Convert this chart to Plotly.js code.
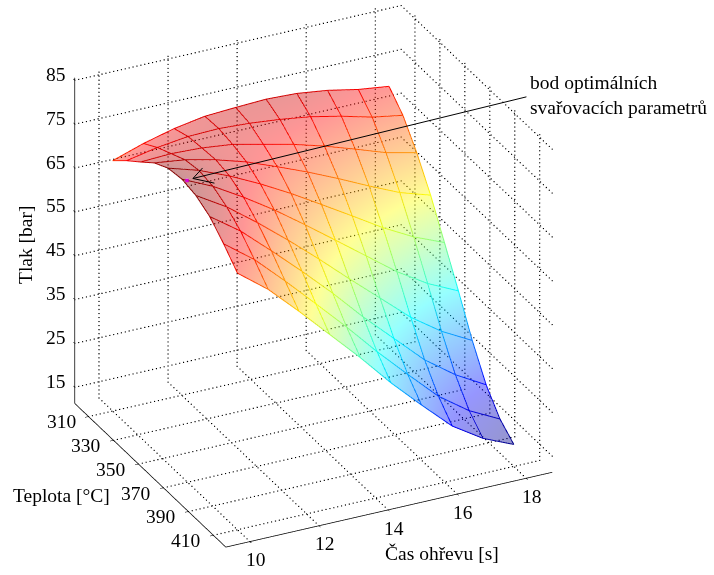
<!DOCTYPE html>
<html>
<head>
<meta charset="utf-8">
<script src="https://cdn.plot.ly/plotly-3.0.1.min.js"></script>
<style>html,body{margin:0;padding:0;background:#fff}</style>
</head>
<body>
<div id="plot" style="width:714px;height:575px"></div>
<script>
const casOhrevu = [10, 10.89, 11.78, 12.67, 13.56, 14.44, 15.33, 16.22, 17.11, 18];
const teplota = [310, 321.1, 332.2, 343.3, 354.4, 365.6, 376.7, 387.8, 398.9, 410];
const tlak = [
  [68.4, 70.7, 72.5, 73.7, 74.1, 74.4, 74.1, 73.2, 71.8, 70.9],
  [71.4, 72.8, 73.7, 73.9, 73.5, 72.8, 71.8, 70.3, 68.5, 67.3],
  [74.1, 74.4, 74.1, 73.3, 71.7, 70.1, 68.1, 65.8, 63.4, 61.8],
  [76.9, 76.0, 74.4, 72.3, 69.6, 66.8, 63.7, 60.4, 57.3, 55.1],
  [78.7, 76.6, 73.7, 70.3, 66.5, 62.4, 58.2, 53.9, 50.2, 47.3],
  [79.2, 76.0, 71.9, 67.4, 62.4, 57.3, 52.1, 46.9, 42.6, 39.3],
  [78.5, 74.3, 69.1, 63.5, 57.6, 51.5, 45.5, 39.5, 34.7, 31.0],
  [76.7, 71.8, 65.7, 59.4, 52.8, 45.8, 39.3, 32.8, 27.8, 23.9],
  [73.5, 68.3, 61.8, 55.0, 48.1, 40.9, 34.1, 27.5, 22.6, 19.1],
  [69.8, 64.5, 57.9, 51.0, 44.1, 36.8, 30.1, 23.7, 19.3, 16.3]
];

const xTicks = [10, 12, 14, 16, 18];
const yTicks = [310, 330, 350, 370, 390, 410];
const zTicks = [15, 25, 35, 45, 55, 65, 75, 85];

// box drawn around the data
const xRange = [9.3, 18.75];
const yRange = [299, 420];
const zRange = [11.3, 85.6];

const optimum = {x: 10, y: 369.5, z: 80};

const jet = [
  [0, 'rgb(0,0,128)'],
  [0.125, 'rgb(0,0,255)'],
  [0.375, 'rgb(0,255,255)'],
  [0.625, 'rgb(255,255,0)'],
  [0.875, 'rgb(255,0,0)'],
  [1, 'rgb(128,0,0)']
];
const cmin = 16;
const cmax = 79.2;
const serif = 'Liberation Serif, Times New Roman, serif';

const line3d = (x, y, z, width) => ({
  type: 'scatter3d',
  mode: 'lines',
  x: x, y: y, z: z,
  line: {color: '#000', width: width},
  hoverinfo: 'skip',
  showlegend: false
});

const traces = [];

// dotted grid on the floor and the two back walls, one small marker per dot
const gridX = [], gridY = [], gridZ = [];
const dots = (a, b, n) => {
  for (let i = 0; i <= n; i++) {
    gridX.push(a[0] + (b[0] - a[0]) * i / n);
    gridY.push(a[1] + (b[1] - a[1]) * i / n);
    gridZ.push(a[2] + (b[2] - a[2]) * i / n);
  }
};
xTicks.forEach(t => {
  dots([t, yRange[0], zRange[0]], [t, yRange[1], zRange[0]], 52);
  dots([t, yRange[0], zRange[0]], [t, yRange[0], zRange[1]], 81);
});
yTicks.forEach(t => {
  dots([xRange[0], t, zRange[0]], [xRange[1], t, zRange[0]], 84);
  dots([xRange[1], t, zRange[0]], [xRange[1], t, zRange[1]], 81);
});
zTicks.forEach(t => {
  dots([xRange[0], yRange[0], t], [xRange[1], yRange[0], t], 84);
  dots([xRange[1], yRange[0], t], [xRange[1], yRange[1], t], 52);
});
traces.push({
  type: 'scatter3d',
  mode: 'markers',
  x: gridX, y: gridY, z: gridZ,
  marker: {color: '#000', size: 0.6, symbol: 'square'},
  hoverinfo: 'skip',
  showlegend: false
});

// solid axes and ticks
traces.push(line3d(xRange, [yRange[1], yRange[1]], [zRange[0], zRange[0]], 1.5));
traces.push(line3d([xRange[0], xRange[0]], yRange, [zRange[0], zRange[0]], 1.5));
traces.push(line3d([xRange[0], xRange[0]], [yRange[0], yRange[0]], zRange, 1.5));
xTicks.forEach(t => traces.push(line3d([t, t], [yRange[1], yRange[1] + 5], [zRange[0], zRange[0]], 1)));
yTicks.forEach(t => traces.push(line3d([xRange[0], xRange[0] - 0.2], [t, t], [zRange[0], zRange[0]], 1)));
zTicks.forEach(t => traces.push(line3d([xRange[0], xRange[0]], [yRange[0], yRange[0] - 5], [t, t], 1)));

// the surface itself
traces.push({
  type: 'surface',
  x: casOhrevu,
  y: teplota,
  z: tlak,
  cmin: cmin,
  cmax: cmax,
  colorscale: jet,
  showscale: false,
  opacity: 0.41,
  hoverinfo: 'skip',
  lighting: {ambient: 1, diffuse: 0, specular: 0, roughness: 1, fresnel: 0}
});

// coloured wires
const wire = (x, y, z) => ({
  type: 'scatter3d',
  mode: 'lines',
  x: x, y: y, z: z,
  line: {color: z, colorscale: jet, cmin: cmin, cmax: cmax, width: 2},
  hoverinfo: 'skip',
  showlegend: false
});
teplota.forEach((t, k) => {
  traces.push(wire(casOhrevu, casOhrevu.map(() => t), tlak[k]));
});
casOhrevu.forEach((c, j) => {
  traces.push(wire(teplota.map(() => c), teplota, tlak.map(r => r[j])));
});

traces.push({
  type: 'scatter3d',
  mode: 'markers',
  x: [optimum.x], y: [optimum.y], z: [optimum.z],
  marker: {color: '#e000e0', size: 1.8, symbol: 'square'},
  hoverinfo: 'skip',
  showlegend: false
});

const tickFont = {family: serif, size: 19.5, color: '#000'};
const sceneNotes = [];
xTicks.forEach(t => sceneNotes.push({
  x: t, y: yRange[1], z: zRange[0], text: String(t), showarrow: false,
  xanchor: 'center', yanchor: 'middle', xshift: 6, yshift: -18, font: tickFont
}));
yTicks.forEach(t => sceneNotes.push({
  x: xRange[0], y: t, z: zRange[0], text: String(t), showarrow: false,
  xanchor: 'right', yanchor: 'middle', xshift: -11, yshift: -5, font: tickFont
}));
zTicks.forEach(t => sceneNotes.push({
  x: xRange[0], y: yRange[0], z: t, text: String(t), showarrow: false,
  xanchor: 'right', yanchor: 'middle', xshift: -7, yshift: 6, font: tickFont
}));
// pointer line and the two barbs of its open head
[[335, -82], [11, -12], [23, 5]].forEach(p => sceneNotes.push({
  x: optimum.x, y: optimum.y, z: optimum.z, text: '', showarrow: true, arrowhead: 0,
  arrowwidth: 1, arrowcolor: '#000', ax: p[0], ay: p[1], xshift: 6, yshift: 2, standoff: 0
}));

const layout = {
  width: 714,
  height: 575,
  margin: {l: 0, r: 0, t: 0, b: 0},
  paper_bgcolor: '#fff',
  showlegend: false,
  hovermode: false,
  scene: {
    domain: {x: [0, 0.878], y: [0.0465, 0.9965]},
    bgcolor: '#fff',
    aspectmode: 'manual',
    aspectratio: {x: 1.36, y: 1.28, z: 1.375},
    camera: {
      projection: {type: 'orthographic'},
      up: {x: 0, y: 0, z: 1},
      center: {x: 0, y: 0, z: 0},
      eye: {x: -0.54, y: -1.10, z: 0.647}
    },
    // slightly wider than the box so its edges are not clipped
    xaxis: {visible: false, range: [xRange[0] - 0.1, xRange[1] + 0.1]},
    yaxis: {visible: false, range: [yRange[1] + 1.2, yRange[0] - 1.2]},
    zaxis: {visible: false, range: [zRange[0] - 0.7, zRange[1] + 0.7]},
    annotations: sceneNotes
  },
  annotations: [
    {xref: 'paper', yref: 'paper', x: 528 / 714, y: 1 - 95 / 575, xanchor: 'left', yanchor: 'middle', align: 'left',
      showarrow: false, text: 'bod optimálních<br>svařovacích parametrů', font: tickFont},
    {xref: 'paper', yref: 'paper', x: 25 / 714, y: 1 - 245 / 575, xanchor: 'center', yanchor: 'middle', textangle: -90, showarrow: false,
      text: 'Tlak [bar]', font: tickFont},
    {xref: 'paper', yref: 'paper', x: 61 / 714, y: 1 - 495 / 575, xanchor: 'center', yanchor: 'middle', showarrow: false,
      text: 'Teplota [°C]', font: tickFont},
    {xref: 'paper', yref: 'paper', x: 442 / 714, y: 1 - 553 / 575, xanchor: 'center', yanchor: 'middle', showarrow: false,
      text: 'Čas ohřevu [s]', font: tickFont}
  ]
};

Plotly.newPlot('plot', traces, layout, {displayModeBar: false});
</script>
</body>
</html>
